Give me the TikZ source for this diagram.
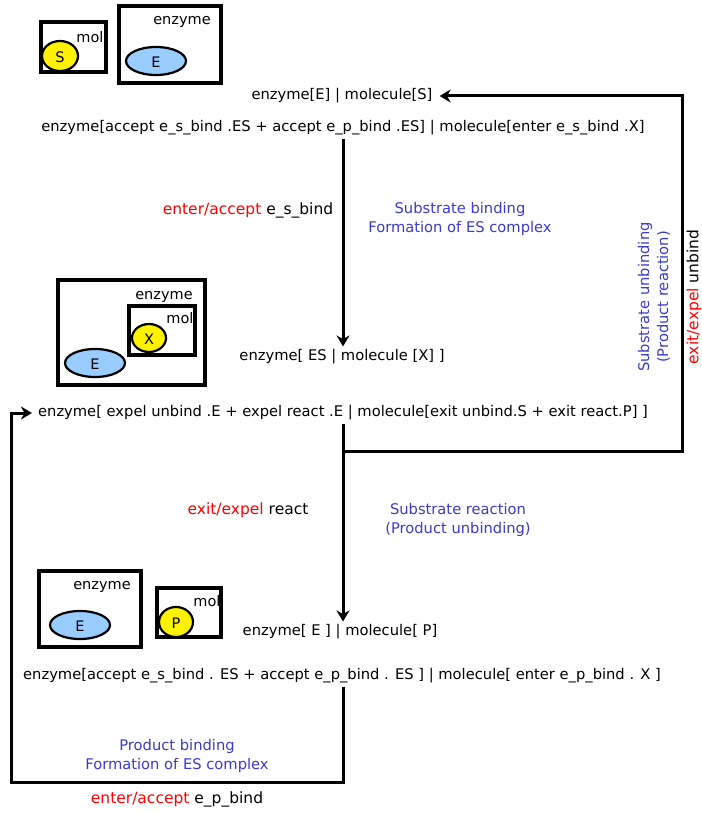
\documentclass[tikz,border=0pt]{standalone}
\usepackage{fontspec}
\setmainfont{DejaVu Sans}
\usetikzlibrary{arrows.meta}
\definecolor{lblue}{HTML}{99CCFF}
\definecolor{tblue}{HTML}{3A3ACC}
\tikzset{
  box/.style={draw, line width=3.4pt},
  txt/.style={font=\fontsize{14.7}{19}\selectfont, inner sep=3pt},
  labtxt/.style={font=\fontsize{15.5}{19}\selectfont, inner sep=3pt},
  lbl/.style={font=\fontsize{14.5}{16}\selectfont, inner sep=0pt},
  bluetxt/.style={font=\fontsize{14.7}{19}\selectfont, inner sep=3pt, text=tblue, align=center},
  arr/.style={line width=3pt, -{Stealth[length=11pt,width=13pt]}},
  ellbase/.style={line width=2.2pt}
}
\begin{document}
\begin{tikzpicture}[x=1pt,y=-1pt]
\useasboundingbox (0,0) rectangle (701,813);
% --- top pictures
\draw[box] (41,22) rectangle (106,72);
\node[lbl] (m1) at (90,37) {mol};
\draw[ellbase, fill=yellow] (60,56) ellipse [x radius=18, y radius=15];
\node[lbl] (s1) at (60,57) {S};
\draw[box] (119,6) rectangle (221,83);
\node[lbl] (e1) at (182,22) {enzyme};
\draw[ellbase, fill=lblue] (156,61) ellipse [x radius=30, y radius=14];
\node[lbl] (E1) at (156,62) {E};
% --- middle pictures
\draw[box] (58,280) rectangle (205,385);
\node[lbl] (e2) at (164,297) {enzyme};
\draw[box] (129,306) rectangle (195,355);
\node[lbl] (m2) at (180,318) {mol};
\draw[ellbase, fill=yellow] (149,338) ellipse [x radius=17, y radius=14];
\node[lbl] (X2) at (149,339) {X};
\draw[ellbase, fill=lblue] (95,363) ellipse [x radius=30, y radius=14];
\node[lbl] (E2) at (95,364) {E};
% --- bottom pictures
\draw[box] (39,571) rectangle (141,647);
\node[lbl] (e3) at (102,587) {enzyme};
\draw[ellbase, fill=lblue] (80,625) ellipse [x radius=30, y radius=14];
\node[lbl] (E3) at (80,626) {E};
\draw[box] (157,588) rectangle (221,637);
\node[lbl] (m3) at (207,601) {mol};
\draw[ellbase, fill=yellow] (176,622) ellipse [x radius=17, y radius=15];
\node[lbl] (P3) at (176,623) {P};
% --- process terms
\node[txt] (t1) at (342,96) {enzyme[E] | molecule[S]};
\node[txt] (t2) at (343,128) {enzyme[accept e\_s\_bind .ES + accept e\_p\_bind .ES] | molecule[enter e\_s\_bind .X]};
\node[txt] (t3) at (342,357) {enzyme[ ES | molecule [X] ]};
\node[txt] (t4) at (343,413) {enzyme[ expel unbind .E + expel react .E | molecule[exit unbind.S + exit react.P] ]};
\node[txt] (t5) at (340,632) {enzyme[ E ] | molecule[ P]};
\node[txt] (t6) at (342,676) {enzyme[accept e\_s\_bind . ES + accept e\_p\_bind . ES ] | molecule[ enter e\_p\_bind . X ]};
% --- labels
\node[labtxt] (l1) at (248,210) {\textcolor{red}{enter/accept} e\_s\_bind};
\node[bluetxt] (b1) at (460,219) {Substrate binding\\Formation of ES complex};
\node[labtxt] (l2) at (248,510) {\textcolor{red}{exit/expel} react};
\node[bluetxt] (b2) at (458,520) {Substrate reaction\\(Product unbinding)};
\node[bluetxt] (b3) at (177,756) {Product binding\\Formation of ES complex};
\node[labtxt] (l3) at (177,799) {\textcolor{red}{enter/accept} e\_p\_bind};
\node[bluetxt, rotate=90] (b4) at (654,297) {Substrate unbinding\\(Product reaction)};
\node[labtxt, rotate=90] (l4) at (694,297) {\textcolor{red}{exit/expel} unbind};
% --- connectors
\coordinate (c1) at (343,451);
\coordinate (c2) at (682,451);
\coordinate (c4) at (11,782);
\draw[arr] (t2.south -| 343,0) -- (343,0 |- t3.north);
\draw[arr] (t4.south -| 343,0) -- (343,0 |- t5.north);
\draw[arr, shorten >=4pt] (c1) -- (c2) |- (t1.east);
\draw[arr, shorten >=3pt] (t6.south -| 343,0) |- (c4) |- (t4.west);
\end{tikzpicture}
\end{document}
